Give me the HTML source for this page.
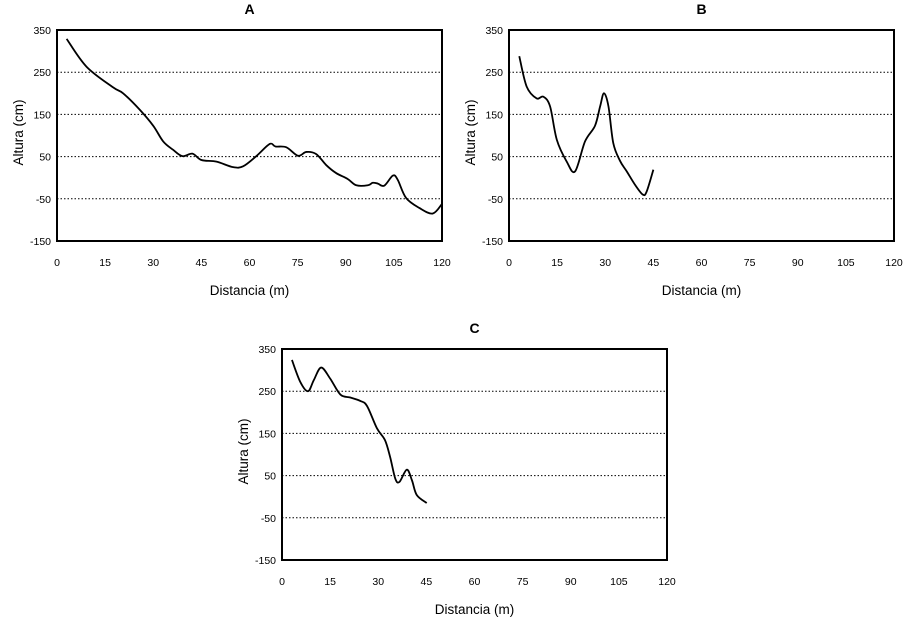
<!DOCTYPE html>
<html><head><meta charset="utf-8">
<style>
html,body{margin:0;padding:0;background:#fff;}
svg{display:block;font-family:"Liberation Sans",sans-serif;}
</style></head>
<body>
<svg id="chart" width="920" height="625" viewBox="0 0 920 625"></svg>
<script>
const xTicks = [0,15,30,45,60,75,90,105,120];
const yTicks = [350,250,150,50,-50,-150];
const gridValues = [250,150,50,-50];
const panelTitles = ["A","B","C"];
const seriesAx = [3,9.2,17.5,20.6,25.8,30,33.1,36.2,39.1,42.2,45,49.7,54.9,58,62.1,66.3,68.1,71.5,75.1,77.7,80.8,83.9,87,90.6,93.3,96.9,98.4,100,102,104.7,106.2,108.8,113,117.1,120];
const seriesAy = [329,263,214,200,161,123,86,66,51,57,42,38,25,27,51,80,74,72,52,61,56,30,11,-3,-18,-18,-12,-14,-19,5,-5,-48,-72,-85,-62];
const seriesBx = [3.2,5.5,8.6,10.7,12.8,14.9,18,20.6,23.7,26.8,28.4,29.6,31,32.5,34.6,36.7,39.3,41.7,42.9,45];
const seriesBy = [288,216,188,192,169,90,38,15,86,123,169,200,169,82,40,15,-17,-40,-33,19];
const seriesCx = [3.1,5.7,8.1,9.9,12.2,15,18.2,21.3,24.4,26.5,29.6,32.1,33.7,35.3,36.6,38.9,40.5,42,45.1];
const seriesCy = [324,272,250,276,306,280,242,235,227,215,162,134,94,43,35,64,39,4,-15];

const svg = document.getElementById('chart');
const NS = 'http://www.w3.org/2000/svg';
function mk(tag, attrs, parent){
  const e = document.createElementNS(NS, tag);
  for (const k in attrs) e.setAttribute(k, attrs[k]);
  parent.appendChild(e); return e;
}
const panels = [
  {x0:57, x1:442, y0:30, y1:241, xs:seriesAx, ys:seriesAy},
  {x0:509, x1:894, y0:30, y1:241, xs:seriesBx, ys:seriesBy},
  {x0:282, x1:667, y0:349, y1:560, xs:seriesCx, ys:seriesCy}
];
panels.forEach((p, i) => {
  const g = mk('g', {}, svg);
  
  
  const sx = v => p.x0 + (v - 0) / 120 * (p.x1 - p.x0);
  const sy = v => p.y0 + (350 - v) / 500 * (p.y1 - p.y0);
  const t = mk('text', {x:(p.x0+p.x1)/2, y:p.y0-16, 'text-anchor':'middle', 'font-size':'14', 'font-weight':'bold'}, g);
  t.textContent = panelTitles[i];
  
  
  gridValues.forEach(v => {
    const l = mk('line', {x1:p.x0, x2:p.x1, y1:sy(v), y2:sy(v), stroke:'#000', 'stroke-width':'1', 'stroke-dasharray':'1.5,2'}, g);
    
    
  });
  // series smooth path (Catmull-Rom)
  const pts = p.xs.map((x, k) => [sx(x), sy(p.ys[k])]);
  let d = 'M' + pts[0][0] + ',' + pts[0][1];
  for (let k = 0; k < pts.length - 1; k++) {
    const p0 = pts[Math.max(0, k-1)], p1 = pts[k], p2 = pts[k+1], p3 = pts[Math.min(pts.length-1, k+2)];
    const c1 = [p1[0] + (p2[0]-p0[0])/6, p1[1] + (p2[1]-p0[1])/6];
    const c2 = [p2[0] - (p3[0]-p1[0])/6, p2[1] - (p3[1]-p1[1])/6];
    d += ' C' + c1.join(',') + ' ' + c2.join(',') + ' ' + p2.join(',');
  }
  const path = mk('path', {d:d, fill:'none', stroke:'#000', 'stroke-width':'1.8', 'stroke-linejoin':'round'}, g);
  
  
  const fr = mk('rect', {x:p.x0, y:p.y0, width:p.x1-p.x0, height:p.y1-p.y0, fill:'none', stroke:'#000', 'stroke-width':'2'}, g);
  
  
  yTicks.forEach(v => {
    const tl = mk('text', {x:p.x0-6, y:sy(v)+4, 'text-anchor':'end', 'font-size':'10.5'}, g);
    tl.textContent = v;
    
    
  });
  xTicks.forEach(v => {
    const tl = mk('text', {x:sx(v), y:p.y1+25, 'text-anchor':'middle', 'font-size':'10.5'}, g);
    tl.textContent = v;
    
    
  });
  const xt = mk('text', {x:(p.x0+p.x1)/2, y:p.y1+54, 'text-anchor':'middle', 'font-size':'13.5'}, g);
  xt.textContent = 'Distancia (m)';
  
  
  const cy = (p.y0+p.y1)/2 - 3;
  const yt = mk('text', {x:p.x0-34, y:cy, 'text-anchor':'middle', 'font-size':'13.5', transform:'rotate(-90 '+(p.x0-34)+' '+cy+')'}, g);
  yt.textContent = 'Altura (cm)';
  
  
});
</script>
</body></html>
